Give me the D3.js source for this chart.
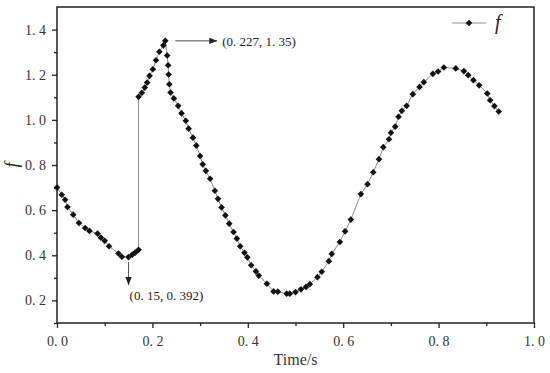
<!DOCTYPE html>
<html>
<head>
<meta charset="utf-8">
<script src="https://cdn.jsdelivr.net/npm/d3@7"></script>
<style>
  body { margin: 0; background: #fff; }
  svg { display: block; }
  .axis text { font-family: "Liberation Serif", "DejaVu Serif", serif; font-size: 14px; fill: #333; }
  .serif { font-family: "Liberation Serif", "DejaVu Serif", serif; }
</style>
</head>
<body>
<div id="chart"></div>
<script>
// time (s) and f values
var times = [0.000, 0.010, 0.017, 0.022, 0.034, 0.046, 0.059, 0.068, 0.085, 0.092,
    0.100, 0.109, 0.129, 0.136, 0.150, 0.158, 0.164, 0.171, 0.171, 0.178,
    0.184, 0.189, 0.194, 0.201, 0.2075, 0.2145, 0.223, 0.227, 0.231, 0.233,
    0.234, 0.2355, 0.238, 0.245, 0.254, 0.261, 0.270, 0.276, 0.285, 0.292,
    0.300, 0.3055, 0.312, 0.321, 0.331, 0.3375, 0.345, 0.353, 0.361, 0.370,
    0.377, 0.384, 0.393, 0.399, 0.407, 0.417, 0.423, 0.440, 0.454, 0.463,
    0.4815, 0.488, 0.500, 0.5115, 0.522, 0.530, 0.546, 0.555, 0.570, 0.576,
    0.593, 0.604, 0.616, 0.637, 0.651, 0.663, 0.675, 0.684, 0.696, 0.700,
    0.709, 0.716, 0.723, 0.733, 0.746, 0.760, 0.769, 0.788, 0.799, 0.811,
    0.836, 0.853, 0.862, 0.873, 0.885, 0.902, 0.908, 0.917, 0.926];
var fValues = [0.700, 0.668, 0.646, 0.614, 0.580, 0.543, 0.521, 0.508, 0.496, 0.478,
    0.464, 0.440, 0.408, 0.393, 0.392, 0.403, 0.412, 0.424, 1.102, 1.120,
    1.143, 1.165, 1.195, 1.224, 1.264, 1.302, 1.330, 1.350, 1.285, 1.242,
    1.201, 1.158, 1.121, 1.095, 1.062, 1.029, 0.996, 0.961, 0.921, 0.886,
    0.840, 0.803, 0.774, 0.739, 0.686, 0.650, 0.612, 0.577, 0.540, 0.503,
    0.474, 0.440, 0.411, 0.391, 0.356, 0.329, 0.310, 0.274, 0.240, 0.239,
    0.230, 0.230, 0.237, 0.249, 0.260, 0.272, 0.303, 0.327, 0.374, 0.406,
    0.459, 0.506, 0.558, 0.671, 0.715, 0.768, 0.826, 0.879, 0.914, 0.943,
    0.970, 1.014, 1.040, 1.062, 1.114, 1.146, 1.167, 1.204, 1.214, 1.232,
    1.228, 1.216, 1.198, 1.176, 1.153, 1.117, 1.087, 1.061, 1.037];

var xTicks = [0, 0.2, 0.4, 0.6, 0.8, 1.0];
var yTicks = [0.2, 0.4, 0.6, 0.8, 1.0, 1.2, 1.4];

// annotated points: [time, f]
var peakPoint = [0.227, 1.35];
var dipPoint = [0.15, 0.392];

var width = 550, height = 373;
var margin = {top: 7, right: 16, bottom: 50, left: 57};
var plotW = width - margin.left - margin.right;
var plotH = height - margin.top - margin.bottom;

var svg = d3.select("#chart").append("svg")
    .attr("width", width)
    .attr("height", height);

var defs = svg.append("defs");
defs.append("marker")
    .attr("id", "arrow")
    .attr("viewBox", "0 0 10 10")
    .attr("refX", 10).attr("refY", 5)
    .attr("markerWidth", 8).attr("markerHeight", 8)
    .attr("markerUnits", "userSpaceOnUse")
    .attr("orient", "auto")
    .append("path")
    .attr("d", "M0,1 L10,5 L0,9 Z")
    .attr("fill", "#222");

var g = svg.append("g")
    .attr("transform", "translate(" + margin.left + "," + margin.top + ")");

var x = d3.scaleLinear().domain([0, 1]).range([0, plotW]);
var y = d3.scaleLinear().domain([0.1, 1.5]).range([plotH, 0]);

var fmt = function(d) { return d.toFixed(1).replace(".", ". "); };

// minor ticks
var xMinor = d3.range(0.1, 1.0, 0.2);
var yMinor = d3.range(0.1, 1.5, 0.2);

g.append("g")
    .attr("class", "axis")
    .attr("transform", "translate(0," + plotH + ")")
    .call(d3.axisBottom(x).tickValues(xMinor).tickSize(3).tickFormat(""))
    .call(function(s) { s.select(".domain").remove(); });
g.append("g")
    .attr("class", "axis")
    .call(d3.axisLeft(y).tickValues(yMinor).tickSize(3).tickFormat(""))
    .call(function(s) { s.select(".domain").remove(); });

var xAxis = g.append("g")
    .attr("class", "axis")
    .attr("transform", "translate(0," + plotH + ")")
    .call(d3.axisBottom(x).tickValues(xTicks).tickSize(5).tickPadding(8).tickFormat(fmt));
xAxis.selectAll(".domain").remove();

var yAxis = g.append("g")
    .attr("class", "axis")
    .call(d3.axisLeft(y).tickValues(yTicks).tickSize(5).tickPadding(6).tickFormat(fmt));
yAxis.selectAll(".domain").remove();

g.selectAll(".axis line").attr("stroke", "#222").attr("stroke-width", 1.3);

// frame
g.append("rect")
    .attr("width", plotW)
    .attr("height", plotH)
    .attr("fill", "none")
    .attr("stroke", "#222")
    .attr("stroke-width", 1.5);

// axis titles
svg.append("text")
    .attr("class", "serif")
    .attr("x", margin.left + x(0.5))
    .attr("y", 365)
    .attr("text-anchor", "middle")
    .attr("font-size", 16)
    .attr("fill", "#333")
    .text("Time/s");

svg.append("text")
    .attr("class", "serif")
    .attr("transform", "translate(18," + (margin.top + y(0.8)) + ") rotate(-90)")
    .attr("text-anchor", "middle")
    .attr("font-style", "italic")
    .attr("font-size", 18)
    .attr("fill", "#222")
    .text("f");

// data
var data = times.map(function(t, i) { return {t: t, f: fValues[i]}; });

var line = d3.line()
    .x(function(d) { return x(d.t); })
    .y(function(d) { return y(d.f); });

g.append("path")
    .datum(data)
    .attr("d", line)
    .attr("fill", "none")
    .attr("stroke", "#8c8c8c")
    .attr("stroke-width", 1);

var diamond = d3.symbol().type(d3.symbolDiamond2).size(28);

g.selectAll(".pt")
    .data(data)
    .enter().append("path")
    .attr("class", "pt")
    .attr("d", diamond)
    .attr("transform", function(d) { return "translate(" + x(d.t) + "," + y(d.f) + ")"; })
    .attr("fill", "#111");

// annotations
g.append("line")
    .attr("x1", x(peakPoint[0]) + 10).attr("y1", y(peakPoint[1]))
    .attr("x2", x(peakPoint[0]) + 52).attr("y2", y(peakPoint[1]))
    .attr("stroke", "#222").attr("stroke-width", 0.8)
    .attr("marker-end", "url(#arrow)");
g.append("text")
    .attr("class", "serif")
    .attr("x", x(peakPoint[0]) + 57)
    .attr("y", y(peakPoint[1]) + 5)
    .attr("font-size", 13)
    .attr("fill", "#222")
    .text("(0. 227, 1. 35)");

g.append("line")
    .attr("x1", x(dipPoint[0])).attr("y1", y(dipPoint[1]) + 5)
    .attr("x2", x(dipPoint[0])).attr("y2", y(dipPoint[1]) + 28)
    .attr("stroke", "#222").attr("stroke-width", 0.8)
    .attr("marker-end", "url(#arrow)");
g.append("text")
    .attr("class", "serif")
    .attr("x", x(dipPoint[0]) + 1)
    .attr("y", y(dipPoint[1]) + 43)
    .attr("font-size", 13)
    .attr("fill", "#222")
    .text("(0. 15, 0. 392)");

// legend
var lg = svg.append("g").attr("transform", "translate(452,23)");
lg.append("line")
    .attr("x1", 0).attr("x2", 34)
    .attr("stroke", "#8c8c8c").attr("stroke-width", 1);
lg.append("path")
    .attr("d", diamond)
    .attr("transform", "translate(17,0)")
    .attr("fill", "#111");
lg.append("text")
    .attr("class", "serif")
    .attr("x", 43).attr("y", 6)
    .attr("font-style", "italic")
    .attr("font-size", 20)
    .attr("fill", "#222")
    .text("f");
</script>
</body>
</html>
